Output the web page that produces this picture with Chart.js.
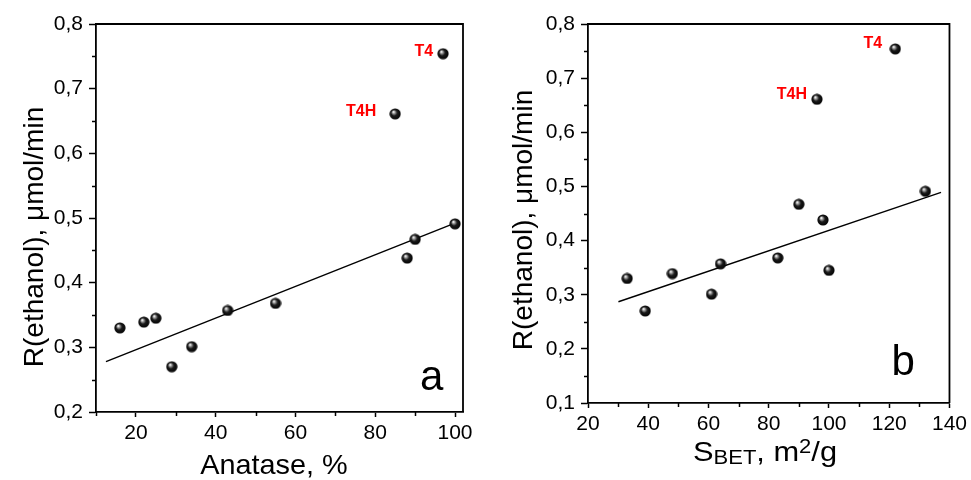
<!DOCTYPE html>
<html>
<head>
<meta charset="utf-8">
<script src="https://cdn.jsdelivr.net/npm/chart.js@4"></script>
<style>
  html, body { margin: 0; padding: 0; background: #fff; }
  #wrap { position: relative; width: 971px; height: 480px; }
  canvas { position: absolute; top: 0; }
  #chartA { left: 0; }
  #chartB { left: 485px; }
</style>
</head>
<body>
<div id="wrap">
  <canvas id="chartA" width="485" height="480"></canvas>
  <canvas id="chartB" width="486" height="480"></canvas>
</div>
<script>
// Samples: ethanol photo-oxidation rate vs. anatase content and BET surface
const sampleNames = ['', '', '', '', '', '', '', '', '', '', 'T4H', 'T4'];
const anatasePct  = [16, 22, 25, 29, 34, 43, 55, 88, 90, 100, 85, 97];
const surfaceBET  = [33, 48, 100, 39, 61, 64, 83, 98, 90, 132, 96, 122];
const ethanolRate = [0.330, 0.339, 0.345, 0.270, 0.301, 0.357, 0.368, 0.438, 0.467, 0.491, 0.661, 0.754];

// Linear trend lines (end points)
const fitAnataseX = [12.5, 100.3];
const fitAnataseY = [0.278, 0.493];
const fitBetX = [30.1, 137.2];
const fitBetY = [0.287, 0.489];

// Axis ticks
const anataseTicks  = [20, 40, 60, 80, 100];
const anataseLabels = ['20', '40', '60', '80', '100'];
const anataseMinor  = [10, 30, 50, 70, 90];
const rateTicksA    = [0.2, 0.3, 0.4, 0.5, 0.6, 0.7, 0.8];
const rateLabelsA   = ['0,2', '0,3', '0,4', '0,5', '0,6', '0,7', '0,8'];
const rateMinorA    = [0.25, 0.35, 0.45, 0.55, 0.65, 0.75];

const betTicks   = [20, 40, 60, 80, 100, 120, 140];
const betLabels  = ['20', '40', '60', '80', '100', '120', '140'];
const betMinor   = [30, 50, 70, 90, 110, 130];
const rateTicksB  = [0.1, 0.2, 0.3, 0.4, 0.5, 0.6, 0.7, 0.8];
const rateLabelsB = ['0,1', '0,2', '0,3', '0,4', '0,5', '0,6', '0,7', '0,8'];
const rateMinorB  = [0.15, 0.25, 0.35, 0.45, 0.55, 0.65, 0.75];

const FONT = "'Liberation Sans', Arial, Helvetica, sans-serif";

// Shaded black ball used as the point marker
function makeBall() {
  const c = document.createElement('canvas');
  c.width = 12; c.height = 12;
  const g = c.getContext('2d');
  const grad = g.createRadialGradient(4.2, 3.9, 0.3, 6, 6, 6);
  grad.addColorStop(0, '#ffffff');
  grad.addColorStop(0.2, '#9a9a9a');
  grad.addColorStop(0.48, '#1a1a1a');
  grad.addColorStop(1, '#000000');
  g.fillStyle = grad;
  g.beginPath();
  g.arc(6, 6, 5.6, 0, Math.PI * 2);
  g.fill();
  return c;
}
const ball = makeBall();

function pairs(xs, ys) { return xs.map((x, i) => ({ x: x, y: ys[i] })); }

function labelFor(values, labels) {
  return function (v) {
    const i = values.findIndex(t => Math.abs(t - v) < 1e-9);
    return i >= 0 ? labels[i] : '';
  };
}

// Frame, minor ticks, sample names, panel letter and axis titles
const decorPlugin = {
  id: 'decor',
  afterDraw(chart, args, o) {
    const ctx = chart.ctx;
    const a = chart.chartArea;
    const xs = chart.scales.x, ys = chart.scales.y;
    ctx.save();
    // top and right edges of the frame
    ctx.strokeStyle = '#000';
    ctx.lineWidth = 1.8;
    ctx.beginPath();
    ctx.moveTo(a.left, a.top);
    ctx.lineTo(a.right, a.top);
    ctx.lineTo(a.right, a.bottom);
    ctx.stroke();
    // minor ticks
    ctx.lineWidth = 1.5;
    ctx.beginPath();
    o.xMinor.forEach(v => {
      const px = Math.round(xs.getPixelForValue(v)) + 0.5;
      ctx.moveTo(px, a.bottom); ctx.lineTo(px, a.bottom + 4);
    });
    o.yMinor.forEach(v => {
      const py = Math.round(ys.getPixelForValue(v)) + 0.5;
      ctx.moveTo(a.left, py); ctx.lineTo(a.left - 4, py);
    });
    ctx.stroke();
    // sample names
    const meta = chart.getDatasetMeta(0);
    ctx.fillStyle = '#ff0000';
    ctx.font = 'bold 16px ' + FONT;
    ctx.textAlign = 'right';
    ctx.textBaseline = 'middle';
    meta.data.forEach((pt, i) => {
      const name = sampleNames[i];
      if (!name) return;
      const off = o.nameOffset[name];
      ctx.fillText(name, pt.x - off[0], pt.y - off[1]);
    });
    // panel letter
    ctx.fillStyle = '#000';
    ctx.font = '42px ' + FONT;
    ctx.textAlign = 'left';
    ctx.textBaseline = 'alphabetic';
    ctx.fillText(o.letter, a.right - o.letterPos[0], a.bottom - o.letterPos[1]);
    // y title
    ctx.save();
    ctx.translate(o.yTitlePos[0], o.yTitlePos[1]);
    ctx.rotate(-Math.PI / 2);
    ctx.font = '28px ' + FONT;
    ctx.textAlign = 'center';
    ctx.fillText('R(ethanol), \u03bcmol/min', 0, 0);
    ctx.restore();
    // x title (runs of normal / sub / superscript text)
    let total = 0;
    const parts = o.xTitle.map(p => {
      ctx.font = p.size + 'px ' + FONT;
      const w = ctx.measureText(p.text).width;
      total += w;
      return { p: p, w: w };
    });
    ctx.save();
    ctx.translate(o.xTitlePos[0], o.xTitlePos[1]);
    ctx.scale(o.xTitleStretch, 1);
    let x = -total / 2;
    ctx.textAlign = 'left';
    parts.forEach(q => {
      ctx.font = q.p.size + 'px ' + FONT;
      ctx.fillText(q.p.text, x, q.p.dy);
      x += q.w;
    });
    ctx.restore();
    ctx.restore();
  }
};

function makeChart(id, cfg) {
  const axisFont = { family: FONT, size: 21 };
  return new Chart(document.getElementById(id), {
    type: 'scatter',
    data: {
      datasets: [
        {
          data: pairs(cfg.xVals, ethanolRate),
          pointStyle: ball,
          pointRadius: 6,
          pointHoverRadius: 6,
          showLine: false
        },
        {
          data: pairs(cfg.fitX, cfg.fitY),
          showLine: true,
          borderColor: '#000',
          borderWidth: 1.4,
          pointRadius: 0,
          pointHoverRadius: 0,
          fill: false
        }
      ]
    },
    options: {
      responsive: false,
      devicePixelRatio: 1,
      animation: false,
      events: [],
      layout: { padding: cfg.padding },
      plugins: {
        legend: { display: false },
        tooltip: { enabled: false },
        decor: cfg.decor
      },
      scales: {
        x: {
          type: 'linear',
          min: cfg.xMin, max: cfg.xMax,
          border: { display: true, color: '#000', width: 1.8 },
          grid: { drawOnChartArea: false, drawTicks: true, tickLength: 5, tickColor: '#000', tickWidth: 1.5 },
          ticks: { color: '#000', font: axisFont, padding: 4, maxRotation: 0, callback: labelFor(cfg.xTicks, cfg.xLabels) },
          afterBuildTicks: s => { s.ticks = cfg.xTicks.map(v => ({ value: v })); },
          afterFit: s => { s.height = cfg.xAxisH; }
        },
        y: {
          type: 'linear',
          min: cfg.yMin, max: cfg.yMax,
          border: { display: true, color: '#000', width: 1.8 },
          grid: { drawOnChartArea: false, drawTicks: true, tickLength: 7, tickColor: '#000', tickWidth: 1.5 },
          ticks: { color: '#000', font: axisFont, padding: 6, callback: labelFor(cfg.yTicks, cfg.yLabels) },
          afterBuildTicks: s => { s.ticks = cfg.yTicks.map(v => ({ value: v })); },
          afterFit: s => { s.width = cfg.yAxisW; }
        }
      }
    },
    plugins: [decorPlugin]
  });
}

Chart.defaults.font.family = FONT;

makeChart('chartA', {
  xVals: anatasePct, fitX: fitAnataseX, fitY: fitAnataseY,
  xMin: 10, xMax: 102, yMin: 0.2, yMax: 0.8,
  xTicks: anataseTicks, xLabels: anataseLabels,
  yTicks: rateTicksA, yLabels: rateLabelsA,
  padding: { left: 0, top: 24, right: 22, bottom: 0 },
  xAxisH: 68, yAxisW: 96,
  decor: {
    xMinor: anataseMinor, yMinor: rateMinorA,
    nameOffset: { T4: [10, 2], T4H: [19, 2] },
    letter: 'a', letterPos: [43, 22],
    yTitlePos: [43, 237],
    xTitle: [{ text: 'Anatase, %', size: 28, dy: 0 }],
    xTitleStretch: 1.03,
    xTitlePos: [274, 474]
  }
});

makeChart('chartB', {
  xVals: surfaceBET, fitX: fitBetX, fitY: fitBetY,
  xMin: 20, xMax: 140, yMin: 0.1, yMax: 0.8,
  xTicks: betTicks, xLabels: betLabels,
  yTicks: rateTicksB, yLabels: rateLabelsB,
  padding: { left: 0, top: 24, right: 19, bottom: 0 },
  xAxisH: 77, yAxisW: 103,
  decor: {
    xMinor: betMinor, yMinor: rateMinorB,
    nameOffset: { T4: [13, 5], T4H: [10, 5] },
    letter: 'b', letterPos: [58, 28],
    yTitlePos: [47, 220],
    xTitle: [
      { text: 'S', size: 28, dy: 0 },
      { text: 'BET', size: 20, dy: 3 },
      { text: ', m', size: 28, dy: 0 },
      { text: '2', size: 20, dy: -8 },
      { text: '/g', size: 28, dy: 0 }
    ],
    xTitleStretch: 1.1,
    xTitlePos: [280, 461]
  }
});
</script>
</body>
</html>
